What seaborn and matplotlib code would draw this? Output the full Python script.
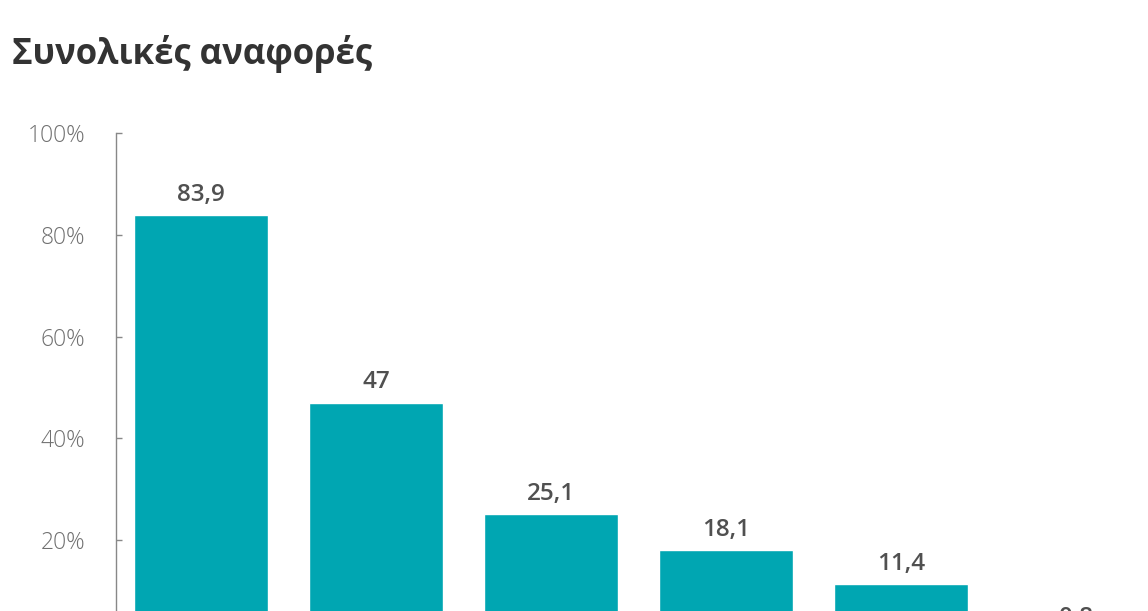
import matplotlib
matplotlib.use("Agg")
import matplotlib.pyplot as plt
import seaborn as sns
import pandas as pd

# data (the bar names are cut off in the reference)
categories = ["1", "2", "3", "4", "5", "6"]
values = [83.9, 47, 25.1, 18.1, 11.4, 0.8]
labels = ["83,9", "47", "25,1", "18,1", "11,4", "0,8"]
yticks = [20, 40, 60, 80, 100]
ytick_labels = ["20%", "40%", "60%", "80%", "100%"]

df = pd.DataFrame({"cat": categories, "val": values})

sns.set_style("white")
plt.rcParams["font.family"] = ["Open Sans", "DejaVu Sans"]

fig = plt.figure(figsize=(11.48, 6.11), dpi=100)
# the reference is a crop: the zero line sits below the picture
ax = fig.add_axes([116 / 1148, 1 - 642 / 611, 1047.5 / 1148, (642 - 133) / 611])

sns.barplot(data=df, x="cat", y="val", color="#00A6B2", saturation=1, width=0.77, ax=ax)

ax.set_ylim(0, 100)
ax.set_xlim(-0.486, 5.5)
ax.set_yticks(yticks)
ax.set_yticklabels(ytick_labels, fontsize=16.5, color="#707070", fontweight="light")
ax.tick_params(axis="y", left=True, direction="in", length=4, width=1, color="#888888", pad=22)
ax.set_xticks([])
ax.set_xlabel("")
ax.set_ylabel("")

for s in ["top", "right", "bottom"]:
    ax.spines[s].set_visible(False)
ax.spines["left"].set_color("#888888")
ax.spines["left"].set_linewidth(1)

ax.bar_label(ax.containers[0], labels=labels, padding=6, fontsize=17.5,
             color="#505050", fontweight="semibold")

fig.text(12 / 1148, 1 - 64 / 611, "Συνολικές αναφορές", fontsize=25,
         fontweight="bold", color="#333333", ha="left", va="baseline")

fig.savefig("out.png", dpi=100)
